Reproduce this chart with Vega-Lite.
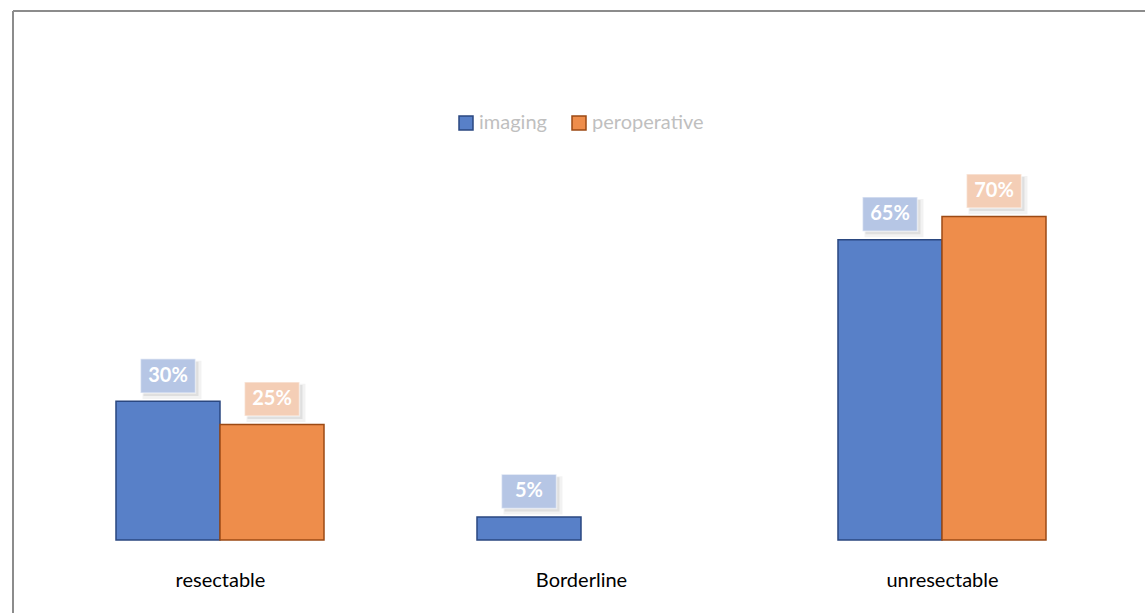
{
  "$schema": "https://vega.github.io/schema/vega-lite/v6.json",
  "width": 1133,
  "height": 603,
  "autosize": {"type": "none"},
  "padding": {"left": 12, "top": 10, "right": 0, "bottom": 0},
  "background": "white",
  "config": {"view": {"stroke": null}, "font": "Lato", "axis": {"translate": 1}},
  "data": {"values": [
    {"category": "resectable", "series": "imaging", "value": 0.30},
    {"category": "resectable", "series": "peroperative", "value": 0.25},
    {"category": "Borderline", "series": "imaging", "value": 0.05},
    {"category": "unresectable", "series": "imaging", "value": 0.65},
    {"category": "unresectable", "series": "peroperative", "value": 0.70}
  ]},
  "encoding": {
    "x": {"field": "category", "type": "nominal", "sort": ["resectable", "Borderline", "unresectable"],
          "scale": {"paddingInner": 0.42382, "paddingOuter": 0.28116, "align": 0.5123}, "axis": null},
    "xOffset": {"field": "series", "type": "nominal", "scale": {"domain": ["imaging", "peroperative"], "paddingInner": 0, "paddingOuter": 0}},
    "y": {"field": "value", "type": "quantitative", "scale": {"domain": [-0.158, 1.147], "nice": false, "zero": false},
          "axis": {"orient": "left", "domain": true, "domainColor": "#8c8c8c", "domainWidth": 2, "labels": false, "ticks": false, "grid": false, "title": null}}
  },
  "layer": [
    {
      "mark": {"type": "bar", "strokeWidth": 1.5},
      "encoding": {
        "x": {"field": "category", "type": "nominal", "sort": ["resectable", "Borderline", "unresectable"],
              "scale": {"paddingInner": 0.42382, "paddingOuter": 0.28116, "align": 0.5123},
              "axis": {"orient": "bottom", "offset": -27, "domain": false, "ticks": false, "grid": false, "labelPadding": 0, "labelBaseline": "alphabetic", "labelFontSize": 20, "labelColor": "#000000", "labelFont": "Lato", "labelAngle": 0, "title": null}},
        "fill": {"field": "series", "type": "nominal", "scale": {"domain": ["imaging", "peroperative"], "range": ["#5880c8", "#ee8d4b"]},
                 "legend": {"orient": "none", "legendX": 444, "legendY": 103, "direction": "horizontal", "title": null, "symbolType": "square", "symbolSize": 196, "symbolStrokeWidth": 1.5, "labelFontSize": 20, "labelFont": "Lato", "labelColor": "#bfbfbf", "labelOffset": 3, "columnPadding": 22, "padding": 0}},
        "stroke": {"field": "series", "type": "nominal", "scale": {"domain": ["imaging", "peroperative"], "range": ["#2a4780", "#9c4a14"]},
                 "legend": {"orient": "none", "legendX": 444, "legendY": 103, "direction": "horizontal", "title": null, "symbolType": "square", "symbolSize": 196, "symbolStrokeWidth": 1.5, "labelFontSize": 20, "labelFont": "Lato", "labelColor": "#bfbfbf", "labelOffset": 3, "columnPadding": 22, "padding": 0}}
      }
    },
    {
      "mark": {"type": "point", "filled": true, "opacity": 0.05, "fill": "#000000", "size": 3025, "yOffset": -25.5,
               "shape": "M-0.928,-0.55 L1.218,-0.55 L1.218,0.84 L-0.928,0.84 Z"},
      "encoding": {
        "x": {"field": "category", "type": "nominal", "sort": ["resectable", "Borderline", "unresectable"],
              "scale": {"paddingInner": 0.42382, "paddingOuter": 0.28116, "align": 0.5123},
              "axis": {"orient": "top", "domain": true, "domainColor": "#8c8c8c", "domainWidth": 2, "labels": false, "ticks": false, "grid": false, "title": null}}
      }
    },
    {
      "mark": {"type": "point", "filled": true, "opacity": 0.08, "fill": "#000000", "size": 3025, "yOffset": -25.5,
               "shape": "M-0.891,-0.51 L1.109,-0.51 L1.109,0.73 L-0.891,0.73 Z"}
    },
    {
      "mark": {"type": "point", "filled": true, "opacity": 1, "size": 3025, "yOffset": -25.5, "stroke": "#ffffff", "strokeOpacity": 0.5, "strokeWidth": 1.5,
               "shape": "M-1,-0.62 L1,-0.62 L1,0.62 L-1,0.62 Z"},
      "encoding": {
        "color": {"field": "series", "type": "nominal", "scale": {"domain": ["imaging", "peroperative"], "range": ["#b6c6e5", "#f4ceb6"]}, "legend": null}
      }
    },
    {
      "mark": {"type": "text", "color": "#ffffff", "font": "Lato", "fontWeight": "bold", "fontSize": 20, "yOffset": -25.5, "baseline": "middle", "align": "center"},
      "encoding": {
        "text": {"field": "value", "type": "quantitative", "format": ".0%"}
      }
    }
  ],
  "resolve": {"axis": {"x": "independent"}}
}
